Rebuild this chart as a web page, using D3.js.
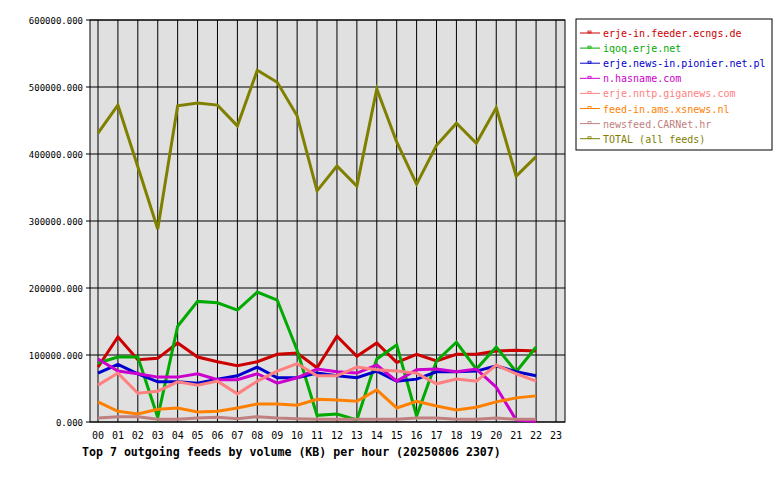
<!DOCTYPE html><html><head><script src="https://cdn.jsdelivr.net/npm/d3@7"></script>
<style>body{margin:0;background:#fff}text{font-family:"DejaVu Sans Mono",monospace;font-size:10px}</style></head><body>
<svg id="c" width="780" height="480"></svg>
<script>
const hours=["00","01","02","03","04","05","06","07","08","09","10","11","12","13","14","15","16","17","18","19","20","21","22","23"];
const yTicks=[0,100000,200000,300000,400000,500000,600000];
const names=["erje-in.feeder.ecngs.de","iqoq.erje.net","erje.news-in.pionier.net.pl","n.hasname.com","erje.nntp.giganews.com","feed-in.ams.xsnews.nl","newsfeed.CARNet.hr","TOTAL (all feeds)"];
const colors=["#cc0000","#00aa00","#0000cc","#cc00cc","#ff8080","#ff8000","#c08080","#808000"];
const s0=[82,127,93,95,118,97,90,84,90,101,103,81,128,98,118,89,101,91,101,101,106,107,106];
const s1=[88,97,97,7,143,180,178,167,194,182,107,10,12,3,94,115,9,91,119,79,112,75,112];
const s2=[73,86,72,60,60,58,64,69,82,66,66,73,69,66,76,61,64,75,75,76,84,75,69];
const s3=[94,76,72,67,67,72,63,63,72,58,66,79,75,73,85,61,78,79,75,79,52,3,1];
const s4=[55,73,43,46,60,55,61,42,61,76,87,69,69,82,78,76,73,57,64,61,85,72,61];
const s5=[30,16,12,19,21,15,16,21,27,27,25,34,33,31,48,21,31,24,18,22,30,36,39];
const s6=[6,8,8,4,4,6,7,5,8,6,5,4,4,4,4,4,6,6,4,4,6,4,4];
const s7=[431,473,381,288,472,476,473,442,525,507,457,345,382,352,497,418,355,413,446,416,469,367,396];
const series=[s0,s1,s2,s3,s4,s5,s6,s7];
const svg=d3.select("#c");
const L=90,R=565,T=20,B=422;
const x=d3.scalePoint().domain(hours).range([98,556]);
const y=d3.scaleLinear().domain([0,600000]).range([B,T]);
svg.append("rect").attr("x",L).attr("y",T).attr("width",R-L).attr("height",B-T).attr("fill","#e0e0e0").attr("stroke","#000");
hours.forEach(h=>svg.append("line").attr("x1",x(h)).attr("x2",x(h)).attr("y1",T).attr("y2",B).attr("stroke","#000"));
yTicks.forEach(v=>{svg.append("line").attr("x1",L).attr("x2",R).attr("y1",y(v)).attr("y2",y(v)).attr("stroke","#000");
 svg.append("line").attr("x1",L-4).attr("x2",L).attr("y1",y(v)).attr("y2",y(v)).attr("stroke","#000");
 svg.append("text").attr("x",L-7).attr("y",y(v)+4).attr("text-anchor","end").style("font-size","9px").text(v.toFixed(3));});
hours.forEach(h=>svg.append("text").attr("x",x(h)).attr("y",439).attr("text-anchor","middle").text(h));
const line=d3.line().x((d,i)=>x(hours[i])).y(d=>y(d*1000));
series.forEach((s,i)=>svg.append("path").attr("d",line(s)).attr("fill","none").attr("stroke",colors[i]).attr("stroke-width",3));
svg.append("text").attr("x",82).attr("y",456).attr("font-weight","bold").style("font-size","11.6px").text("Top 7 outgoing feeds by volume (KB) per hour (20250806 2307)");
svg.append("rect").attr("x",576).attr("y",19).attr("width",196).attr("height",131).attr("fill","#fff").attr("stroke","#000");
names.forEach((n,i)=>{const yy=33+i*15.1;
 svg.append("line").attr("x1",580).attr("x2",600).attr("y1",yy).attr("y2",yy).attr("stroke",colors[i]);
 svg.append("rect").attr("x",588).attr("y",yy-2).attr("width",3).attr("height",2).attr("fill","none").attr("stroke",colors[i]).attr("stroke-width",0.8);
 svg.append("text").attr("x",603).attr("y",yy+4).attr("fill",colors[i]).text(n);});
</script></body></html>
